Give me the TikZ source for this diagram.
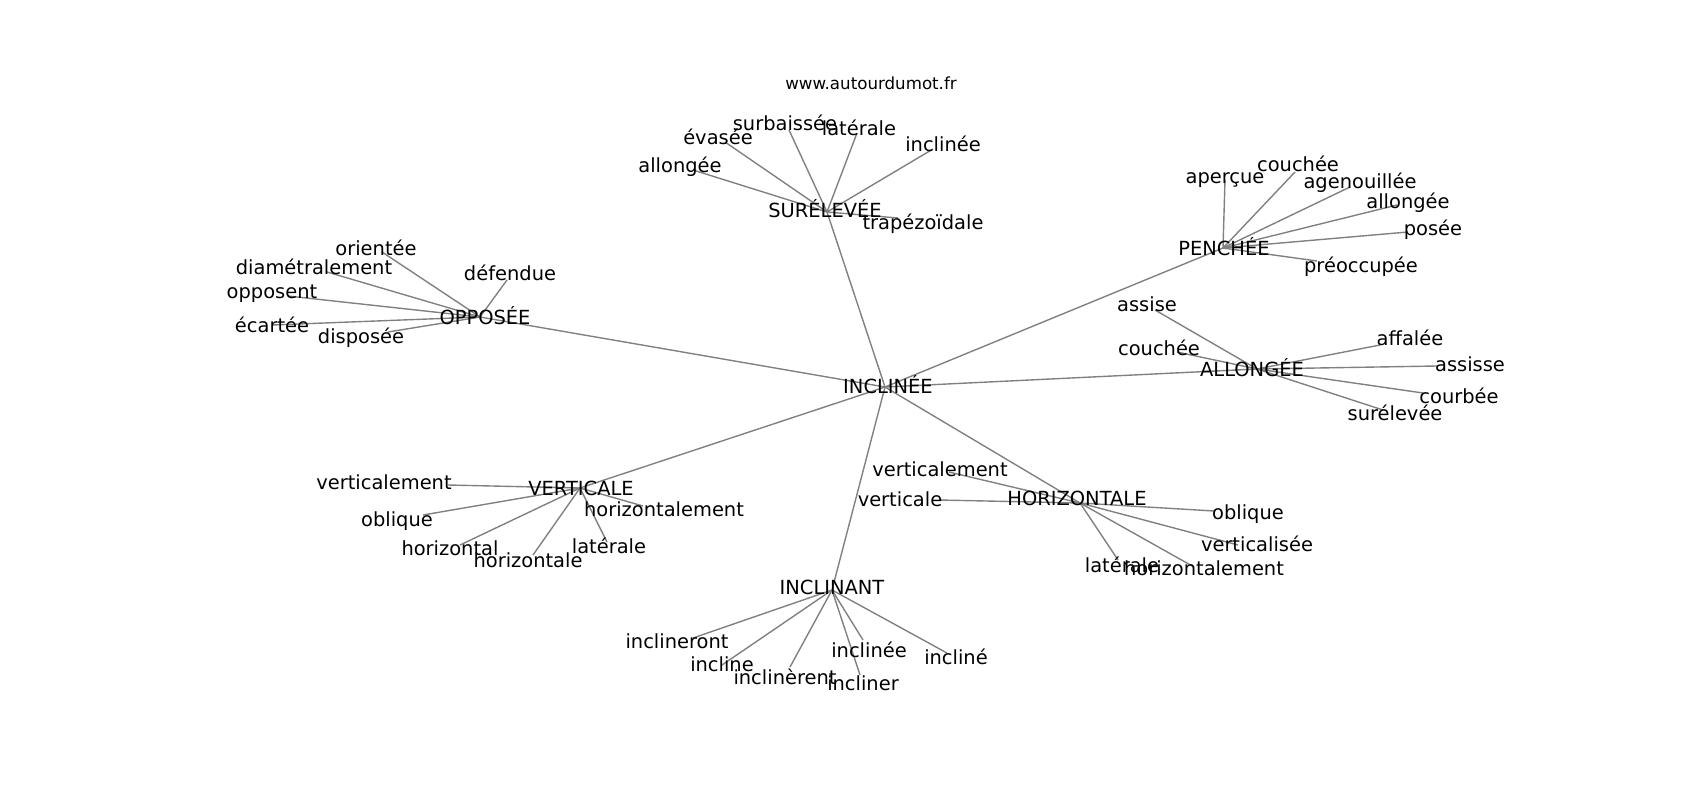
\documentclass[tikz,border=0pt]{standalone}
\usepackage{fontspec}
\setmainfont{DejaVu Sans}
\pgfdeclarelayer{bg}
\pgfsetlayers{bg,main}

\begin{document}
\begin{tikzpicture}[x=0.72pt,y=-0.72pt,
    word/.style={anchor=base,inner sep=0pt,yshift=-5.2pt,font=\fontsize{14}{17}\selectfont},
    edge/.style={gray,line width=1pt}]
    \useasboundingbox (0,0) rectangle (1700,800);
    \node at (871,82) [word,font=\fontsize{12}{14}\selectfont] (site) {www.autourdumot.fr};
    \foreach \n/\x/\y/\tx/\ty/\w in {incl/885/387/888/386/INCLINÉE,
        surel/827/212/825/210/SURÉLEVÉE, oppo/480/317/485/317/OPPOSÉE,
        pench/1223/248/1224/248/PENCHÉE, allong/1257/369/1252/369/ALLONGÉE,
        verti/580/488/581/488/VERTICALE, horiz/1080/503/1077/498/HORIZONTALE,
        inclt/832/590/832/587/INCLINANT}
    {
        \coordinate (\n) at (\x,\y);
        \node at (\tx,\ty) [word] (\n-t) {\w};
    }
    \begin{pgfonlayer}{bg}
        \foreach \n in {surel,oppo,pench,allong,verti,horiz,inclt}
            \draw [edge] (incl) -- (\n);
    \end{pgfonlayer}
    \foreach \n/\h/\x/\y/\tx/\ty/\w in {
        s1/surel/693/170/680/165/allongée, s2/surel/725/142/718/137/évasée,
        s3/surel/789/130/785/123/surbaissée, s4/surel/857/133/859/128/latérale,
        s5/surel/933/149/943/144/inclinée, s6/surel/898/218/923/222/trapézoïdale,
        p1/pench/1225/180/1225/176/aperçue, p2/pench/1295/172/1298/164/couchée,
        p3/pench/1350/187/1360/181/agenouillée, p4/pench/1397/205/1408/201/allongée,
        p5/pench/1408/232/1433/228/posée, p6/pench/1317/261/1361/265/préoccupée,
        a1/allong/1155/310/1147/304/assise, a2/allong/1177/352/1159/348/couchée,
        a3/allong/1380/345/1410/338/affalée, a4/allong/1437/366/1470/364/assisse,
        a5/allong/1423/393/1459/396/courbée, a6/allong/1383/410/1395/413/surélevée,
        o1/oppo/382/252/376/248/orientée, o2/oppo/327/272/314/267/diamétralement,
        o3/oppo/507/280/510/273/défendue, o4/oppo/288/296/272/291/opposent,
        o5/oppo/272/325/272/325/écartée, o6/oppo/388/332/361/336/disposée,
        v1/verti/448/485/384/482/verticalement, v2/verti/423/515/397/519/oblique,
        v3/verti/460/545/450/548/horizontal, v4/verti/533/555/528/560/horizontale,
        v5/verti/643/506/664/509/horizontalement, v6/verti/607/542/609/546/latérale,
        h1/horiz/949/472/940/469/verticalement, h2/horiz/939/500/900/499/verticale,
        h3/horiz/1214/511/1248/512/oblique, h4/horiz/1238/545/1257/544/verticalisée,
        h5/horiz/1118/560/1122/565/latérale, h6/horiz/1194/567/1204/568/horizontalement,
        i1/inclt/693/638/677/641/inclineront, i2/inclt/722/665/722/664/incline,
        i3/inclt/790/667/785/677/inclinèrent, i4/inclt/863/640/869/650/inclinée,
        i5/inclt/860/675/863/683/incliner, i6/inclt/947/653/956/657/incliné}
    {
        \coordinate (\n) at (\x,\y);
        \node at (\tx,\ty) [word] (\n-t) {\w};
        \begin{pgfonlayer}{bg}
            \draw [edge] (\h) -- (\n);
        \end{pgfonlayer}
    }
\end{tikzpicture}
\end{document}
